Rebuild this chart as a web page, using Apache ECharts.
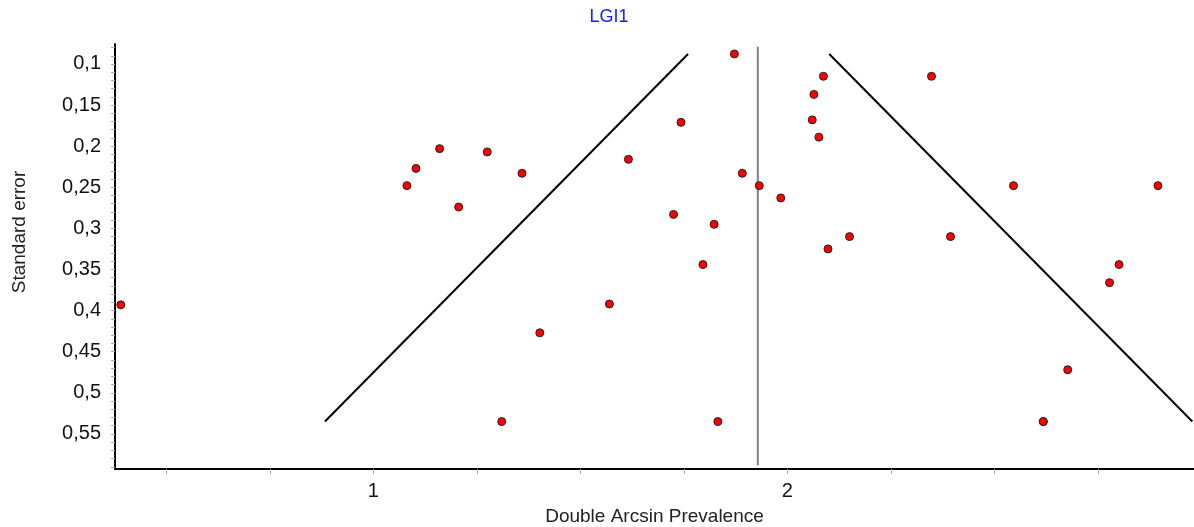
<!DOCTYPE html>
<html>
<head>
<meta charset="utf-8">
<script src="https://cdn.jsdelivr.net/npm/echarts@6/dist/echarts.min.js"></script>
<style>html,body{margin:0;padding:0;background:#fff}#c{width:1194px;height:527px}</style>
</head>
<body>
<div id="c"></div>
<script>
// Study effects (Double Arcsin Prevalence) and their standard errors
const effects = [1.872, 1.160, 1.103, 1.081, 1.275, 1.359, 1.206, 1.743, 1.616, 1.891,
  1.932, 1.984, 1.725, 1.823, 1.796, 1.570, 1.402, 1.310, 1.832, 0.390,
  2.087, 2.064, 2.060, 2.076, 2.348, 2.546, 2.895, 2.150, 2.098, 2.394,
  2.801, 2.778, 2.677, 2.618, 2.618];
const stdErrors = [0.0878, 0.203, 0.227, 0.248, 0.207, 0.233, 0.274, 0.171, 0.216, 0.233,
  0.248, 0.263, 0.283, 0.295, 0.344, 0.392, 0.427, 0.535, 0.535, 0.393,
  0.115, 0.137, 0.168, 0.189, 0.115, 0.248, 0.248, 0.310, 0.325, 0.310,
  0.344, 0.366, 0.472, 0.535, 0.535];
// Pooled estimate line and funnel limits (endpoints)
const pooledX = [1.9285, 1.9285];
const pooledY = [0.079, 0.588];
const funnelLeftX = [0.883, 1.760];
const funnelRightX = [2.978, 2.101];
const funnelY = [0.535, 0.0878];
// Ticks and labels
const xTickValues = [0.5, 0.75, 1, 1.25, 1.5, 1.75, 2, 2.25, 2.5, 2.75];
const xLabelValues = [1, 2];
const yLabelValues = [0.1, 0.15, 0.2, 0.25, 0.3, 0.35, 0.4, 0.45, 0.5, 0.55];
const yTickValues = [0.08,0.09,0.10,0.11,0.12,0.13,0.14,0.15,0.16,0.17,0.18,0.19,0.20,0.21,0.22,0.23,0.24,0.25,0.26,0.27,0.28,0.29,0.30,0.31,0.32,0.33,0.34,0.35,0.36,0.37,0.38,0.39,0.40,0.41,0.42,0.43,0.44,0.45,0.46,0.47,0.48,0.49,0.50,0.51,0.52,0.53,0.54,0.55,0.56,0.57,0.58,0.59];

const FONT = "'Liberation Sans', Arial, sans-serif";
const chart = echarts.init(document.getElementById('c'), null, {renderer: 'canvas'});
const zip = (a, b) => a.map((v, i) => [v, b[i]]);
chart.setOption({
  animation: false,
  backgroundColor: '#ffffff',
  title: {
    text: 'LGI1', left: 604, top: 3, textAlign: 'center',
    textStyle: {color: '#1a1aff', fontSize: 18, fontWeight: 'normal', fontFamily: FONT}
  },
  graphic: [{
    type: 'text', x: 20, y: 232, rotation: Math.PI / 2,
    style: {text: 'Standard error', fill: '#222', font: "19px 'Liberation Sans', Arial, sans-serif",
      align: 'center', verticalAlign: 'middle'}
  }],
  grid: {left: 115, right: 0, top: 44, bottom: 58, containLabel: false, outerBoundsMode: 'none'},
  xAxis: {
    type: 'value', min: 0.376, max: 2.982,
    name: 'Double Arcsin Prevalence', nameLocation: 'middle', nameGap: 38,
    nameTextStyle: {color: '#222', fontSize: 19, fontFamily: FONT},
    axisLine: {show: true, onZero: false, lineStyle: {color: '#000', width: 2}},
    axisTick: {show: true, customValues: xTickValues, length: 5, lineStyle: {color: '#aaa', width: 1}},
    axisLabel: {customValues: xLabelValues, color: '#111', fontSize: 20, fontFamily: FONT, margin: 12,
      formatter: v => String(v).replace('.', ',')},
    splitLine: {show: false}
  },
  yAxis: {
    type: 'value', inverse: true, min: 0.0757, max: 0.5927,
    axisLine: {show: true, onZero: false, lineStyle: {color: '#000', width: 2}},
    axisTick: {show: true, customValues: yTickValues, length: 4, lineStyle: {color: '#aaa', width: 1}},
    axisLabel: {customValues: yLabelValues, color: '#111', fontSize: 20, fontFamily: FONT, margin: 14,
      formatter: v => String(+v.toFixed(2)).replace('.', ',')},
    splitLine: {show: false}
  },
  series: [
    {type: 'line', data: zip(pooledX, pooledY), symbol: 'none', silent: true,
      lineStyle: {color: '#808080', width: 2}, z: 1},
    {type: 'line', data: zip(funnelLeftX, funnelY), symbol: 'none', silent: true,
      lineStyle: {color: '#000', width: 2}, z: 1},
    {type: 'line', data: zip(funnelRightX, funnelY), symbol: 'none', silent: true,
      lineStyle: {color: '#000', width: 2}, z: 1},
    {type: 'scatter', data: zip(effects, stdErrors), symbol: 'circle', symbolSize: 8,
      itemStyle: {color: '#ff0000', borderColor: '#222', borderWidth: 1, opacity: 1}, z: 3}
  ]
});
</script>
</body>
</html>
